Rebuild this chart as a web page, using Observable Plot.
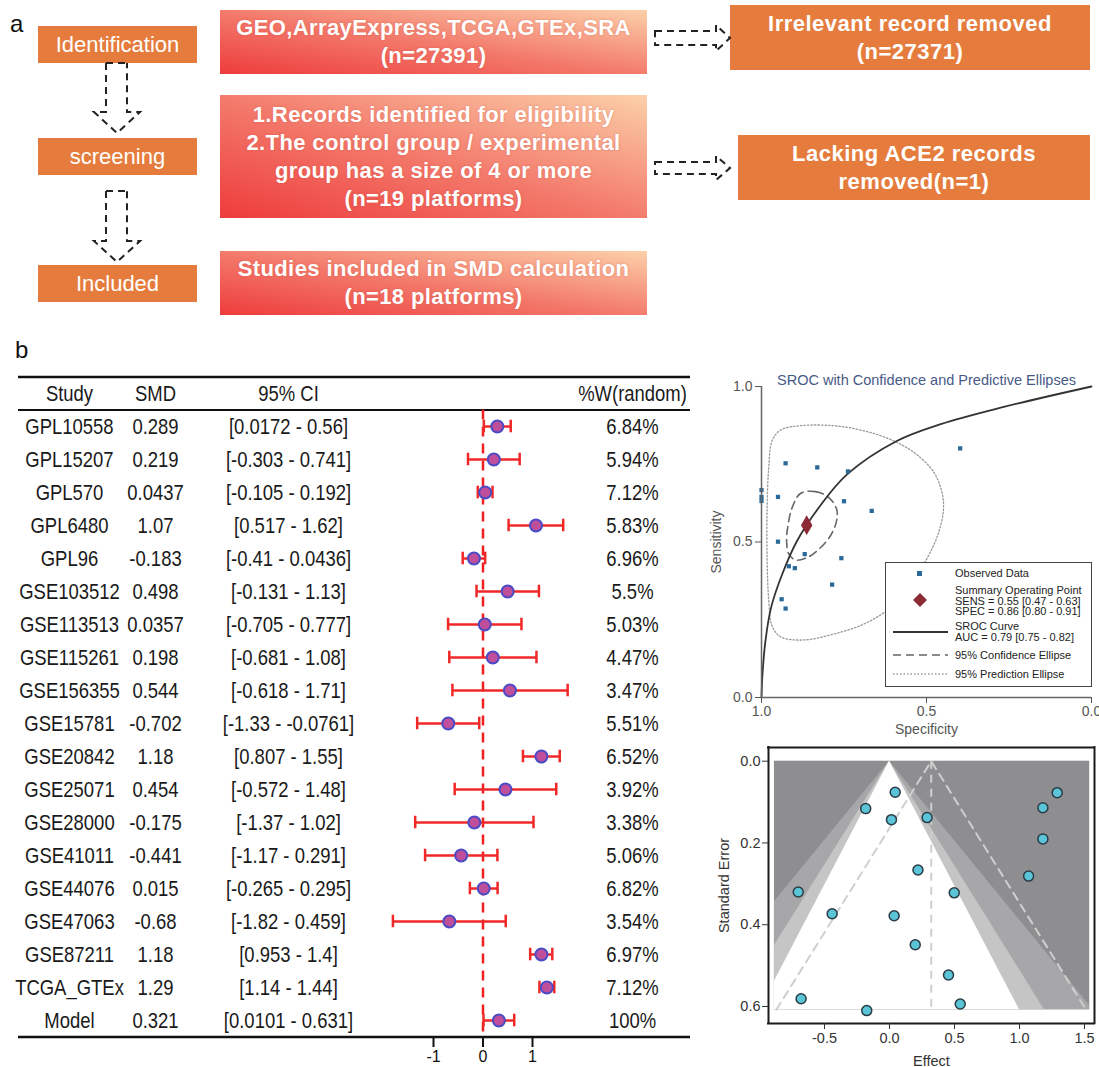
<!DOCTYPE html>
<html><head><meta charset="utf-8">
<script src="https://cdn.jsdelivr.net/npm/d3@7"></script>
<script src="https://cdn.jsdelivr.net/npm/@observablehq/plot@0.6"></script>
<style>
body{margin:0;background:#fff;}
#root{position:relative;width:1099px;height:1067px;overflow:hidden;font-family:"Liberation Sans",Arial,sans-serif;}
.box{position:absolute;display:flex;flex-direction:column;justify-content:center;align-items:center;color:#fff;text-align:center;box-sizing:border-box;line-height:28px;}
.orange{background:#E57C3D;}
.left{font-size:22px;font-weight:normal;}
.grad{background:linear-gradient(to top right,#ee3c3c 0%,#f3796b 48%,#fcd0aa 100%);font-weight:bold;font-size:22px;letter-spacing:0.4px;text-shadow:0 0 2px rgba(200,80,60,0.5);}
.rbox{font-weight:bold;font-size:22px;letter-spacing:0.5px;}
.plot{position:absolute;}
.lab{position:absolute;font-size:24px;color:#111;}
#legend{position:absolute;left:885px;top:562px;width:207px;height:125px;box-sizing:border-box;border:1px solid #444;background:#fff;font-family:"Liberation Sans",Arial,sans-serif;font-size:11px;color:#222;}
#legend .t{position:absolute;left:69px;line-height:10.5px;white-space:nowrap;}
</style>
</head><body>
<div id="root">
  <div class="lab" style="left:10px;top:10px;">a</div>
  <div class="box orange left" style="left:38px;top:26px;width:159px;height:37px;">Identification</div>
  <div class="box orange left" style="left:38px;top:138px;width:159px;height:37px;">screening</div>
  <div class="box orange left" style="left:38px;top:265px;width:159px;height:37px;">Included</div>
  <div class="box grad" style="left:220px;top:10px;width:427px;height:64px;"><div>GEO,ArrayExpress,TCGA,GTEx,SRA</div><div>(n=27391)</div></div>
  <div class="box grad" style="left:220px;top:95px;width:427px;height:123px;"><div>1.Records identified for eligibility</div><div>2.The control group / experimental</div><div>group has a size of 4 or more</div><div>(n=19 platforms)</div></div>
  <div class="box grad" style="left:220px;top:251px;width:427px;height:64px;"><div>Studies included in SMD calculation</div><div>(n=18 platforms)</div></div>
  <div class="box orange rbox" style="left:730px;top:5px;width:360px;height:65px;"><div>Irrelevant record removed</div><div>(n=27371)</div></div>
  <div class="box orange rbox" style="left:738px;top:135px;width:352px;height:65px;"><div>Lacking ACE2 records</div><div>removed(n=1)</div></div>
  <svg style="position:absolute;left:0;top:0;" width="1099" height="330">
    <g fill="none" stroke="#222" stroke-width="2" stroke-dasharray="7,5">
      <path d="M106,63 H127 M106,63 V112 H94 L117,133 L140,112 H127 V63"/>
      <path d="M106,191 H127 M106,191 V241 H94 L117,262 L140,241 H127 V191"/>
      <path d="M655,31 H716 V25 L730,38 L716,51 V45 H655 Z"/>
      <path d="M655,162 H716 V156 L730,168 L716,180 V174 H655 Z"/>
    </g>
  </svg>
  <div class="lab" style="left:15px;top:336px;">b</div>
  <div id="forest" class="plot" style="left:0;top:360px;"></div>
  <div id="sroc" class="plot" style="left:700px;top:340px;"></div>
  <div id="funnel" class="plot" style="left:700px;top:735px;"></div>
  <div id="legend">
    <svg width="207" height="125" style="position:absolute;left:0;top:0;">
      <rect x="31" y="8" width="5" height="5" fill="#2a6a9a"/>
      <path d="M34,30 L41,37 L34,44 L27,37 Z" fill="#8c2a36"/>
      <line x1="7" x2="62" y1="69" y2="69" stroke="#333" stroke-width="1.8"/>
      <line x1="7" x2="62" y1="92" y2="92" stroke="#666" stroke-width="1.6" stroke-dasharray="8,5"/>
      <line x1="7" x2="62" y1="111" y2="111" stroke="#9a9a9a" stroke-width="1.3" stroke-dasharray="1.5,2"/>
    </svg>
    <div class="t" style="top:5px;">Observed Data</div>
    <div class="t" style="top:22px;">Summary Operating Point<br>SENS = 0.55 [0.47 - 0.63]<br>SPEC = 0.86 [0.80 - 0.91]</div>
    <div class="t" style="top:58px;">SROC Curve<br>AUC = 0.79 [0.75 - 0.82]</div>
    <div class="t" style="top:87px;">95% Confidence Ellipse</div>
    <div class="t" style="top:106px;">95% Prediction Ellipse</div>
  </div>
</div>
<script>
// ---------- Forest plot data ----------
const studies = ["GPL10558","GPL15207","GPL570","GPL6480","GPL96","GSE103512","GSE113513","GSE115261","GSE156355","GSE15781","GSE20842","GSE25071","GSE28000","GSE41011","GSE44076","GSE47063","GSE87211","TCGA_GTEx","Model"];
const smd = [0.289,0.219,0.0437,1.07,-0.183,0.498,0.0357,0.198,0.544,-0.702,1.18,0.454,-0.175,-0.441,0.015,-0.68,1.18,1.29,0.321];
const ciLow = [0.0172,-0.303,-0.105,0.517,-0.41,-0.131,-0.705,-0.681,-0.618,-1.33,0.807,-0.572,-1.37,-1.17,-0.265,-1.82,0.953,1.14,0.0101];
const ciHigh = [0.56,0.741,0.192,1.62,0.0436,1.13,0.777,1.08,1.71,-0.0761,1.55,1.48,1.02,0.291,0.295,0.459,1.4,1.44,0.631];
const weights = ["6.84%","5.94%","7.12%","5.83%","6.96%","5.5%","5.03%","4.47%","3.47%","5.51%","6.52%","3.92%","3.38%","5.06%","6.82%","3.54%","6.97%","7.12%","100%"];
const forestTicks = [-1, 0, 1];

// ---------- Funnel plot data (standard errors) ----------
const funnelSE = [0.138,0.266,0.076,0.281,0.116,0.322,0.378,0.449,0.594,0.320,0.190,0.523,0.610,0.373,0.143,0.581,0.114,0.077];
const zLevels = [2.576, 1.96, 1.645];
const zFills = ["#a7a7a9", "#c5c5c6", "#ffffff"];
const funnelXlim = [-0.885, 1.54];
const funnelSEmax = 0.608;
const funnelXTicks = [-0.5, 0, 0.5, 1, 1.5];
const funnelYTicks = [0, 0.2, 0.4, 0.6];

// ---------- SROC data ----------
const obsSpec = [1.0,1.0,1.0,0.927,0.831,0.738,0.950,0.750,0.666,0.398,0.950,0.869,0.758,0.917,0.899,0.786,0.939,0.927];
const obsSens = [0.667,0.645,0.632,0.753,0.740,0.727,0.645,0.631,0.600,0.801,0.501,0.461,0.448,0.422,0.416,0.363,0.316,0.286];
const summarySpec = 0.863, summarySens = 0.554;
const srocSpec = [1.0,0.997,0.988,0.971,0.937,0.892,0.826,0.74,0.59,0.457,0.275,0.0];
const srocSens = [0.0,0.075,0.182,0.289,0.397,0.504,0.611,0.718,0.825,0.879,0.932,1.0];
const confSpec = [0.882,0.836,0.796,0.7725,0.7725,0.791,0.826,0.8615,0.897,0.917,0.924,0.920,0.907];
const confSens = [0.656,0.662,0.643,0.606,0.568,0.520,0.477,0.450,0.442,0.461,0.504,0.552,0.611];
const predSpec = [0.942,0.882,0.781,0.700,0.619,0.538,0.477,0.452,0.449,0.465,0.497,0.548,0.609,0.690,0.781,0.872,0.942,0.968,0.978,0.983,0.983,0.978,0.968];
const predSens = [0.860,0.874,0.874,0.860,0.834,0.788,0.723,0.654,0.600,0.525,0.450,0.364,0.289,0.236,0.204,0.185,0.195,0.230,0.311,0.450,0.611,0.740,0.825];
const srocTicks = [1, 0.5, 0];

// ---------- Forest ----------
const rows = studies.map((s, i) => ({i, study: s, smd: smd[i], lo: ciLow[i], hi: ciHigh[i], w: weights[i]}));
const n = rows.length;
const cols = [
  {header: "Study", dx: 51, text: d => d.study},
  {header: "SMD", dx: 137, text: d => String(d.smd)},
  {header: "95% CI", dx: 270, text: d => `[${d.lo} - ${d.hi}]`},
  {header: "%W(random)", dx: 614, text: d => d.w}
];
const forest = Plot.plot({
  width: 700, height: 707, marginLeft: 18, marginRight: 10, marginTop: 0, marginBottom: 31,
  style: {fontFamily: '"Liberation Sans",Arial,sans-serif', background: "transparent", overflow: "visible", color: "#111"},
  x: {type: "linear", domain: [-1, 1], range: [433, 532]},
  y: {type: "linear", domain: [0, n - 1], range: [66, 660], axis: null},
  marks: [
    Plot.ruleY([-1.5], {stroke: "#111", strokeWidth: 2.5}),
    Plot.ruleY([-0.5], {stroke: "#111", strokeWidth: 2}),
    Plot.ruleY([n - 0.5], {stroke: "#111", strokeWidth: 2.5}),
    Plot.ruleX([0], {y1: -0.5, y2: n - 0.5, stroke: "#f02020", strokeWidth: 2.5, strokeDasharray: "10,7"}),
    Plot.ruleY(rows, {y: "i", x1: "lo", x2: "hi", stroke: "#f02828", strokeWidth: 2.5}),
    Plot.ruleX(rows, {x: "lo", y1: d => d.i - 0.19, y2: d => d.i + 0.19, stroke: "#f02828", strokeWidth: 2.5}),
    Plot.ruleX(rows, {x: "hi", y1: d => d.i - 0.19, y2: d => d.i + 0.19, stroke: "#f02828", strokeWidth: 2.5}),
    Plot.dot(rows, {x: "smd", y: "i", r: 6, fill: "#bf4f9a", stroke: "#4b4bc6", strokeWidth: 2}),
    ...cols.flatMap(c => [
      Plot.text([c.header], {y: () => -1, text: d => d, frameAnchor: "left", textAnchor: "middle", dx: c.dx, fontSize: 22, fill: "#1a1a1a"}),
      Plot.text(rows, {y: "i", text: c.text, frameAnchor: "left", textAnchor: "middle", dx: c.dx, fontSize: 22, fill: "#1a1a1a"})
    ]),
    Plot.axisX({ticks: forestTicks, tickFormat: d => String(d), tickSize: 11, tickPadding: 3, fontSize: 16, label: null, strokeWidth: 2})
  ]
});
// condense the table text horizontally (the reference uses a narrow face)
forest.querySelectorAll('g[aria-label="text"] text').forEach(t => {
  const x = +(t.getAttribute("x") || 0);
  const tr = t.getAttribute("transform") || "";
  t.setAttribute("transform", `${tr} translate(${x},0) scale(0.84,1) translate(${-x},0)`);
});
document.getElementById("forest").appendChild(forest);

// ---------- SROC ----------
const obs = obsSpec.map((s, i) => ({spec: s, sens: obsSens[i]}));
const curve = srocSpec.map((s, i) => ({spec: s, sens: srocSens[i]}));
const conf = confSpec.map((s, i) => ({spec: s, sens: confSens[i]}));
const pred = predSpec.map((s, i) => ({spec: s, sens: predSens[i]}));
const sroc = Plot.plot({
  width: 399, height: 400, marginLeft: 61, marginRight: 8, marginTop: 46, marginBottom: 43,
  style: {fontFamily: '"Liberation Sans",Arial,sans-serif', fontSize: "14px", background: "transparent", overflow: "visible"},
  x: {domain: [1, 0]},
  y: {domain: [0, 1]},
  marks: [
    Plot.line(pred, {x: "spec", y: "sens", curve: "catmull-rom-closed", stroke: "#9a9a9a", strokeWidth: 1.3, strokeDasharray: "1.5,2"}),
    Plot.line(conf, {x: "spec", y: "sens", curve: "catmull-rom-closed", stroke: "#666", strokeWidth: 1.6, strokeDasharray: "8,5"}),
    Plot.line(curve, {x: "spec", y: "sens", curve: "catmull-rom", stroke: "#333", strokeWidth: 1.8}),
    Plot.dot(obs, {x: "spec", y: "sens", symbol: "square", r: 2.4, fill: "#2a6a9a"}),
    Plot.dot([{spec: summarySpec, sens: summarySens}], {x: "spec", y: "sens", symbol: "diamond", r: 6, fill: "#8c2a36"}),
    Plot.ruleX([1], {stroke: "#666", strokeWidth: 1.5}),
    Plot.ruleY([0], {stroke: "#666", strokeWidth: 1.5}),
    Plot.axisX({ticks: srocTicks, tickFormat: d => d.toFixed(1), tickSize: 6, tickPadding: 3, color: "#555", fontSize: 14, label: "Specificity", labelAnchor: "center", labelArrow: "none", labelOffset: 36}),
    Plot.axisY({ticks: srocTicks, tickFormat: d => d.toFixed(1), tickSize: 6, tickPadding: 3, color: "#555", fontSize: 14, label: "Sensitivity", labelAnchor: "center", labelArrow: "none", labelOffset: 50}),
    Plot.text(["SROC with Confidence and Predictive Ellipses"], {frameAnchor: "top", dy: -12, fill: "#475a87", fontSize: 14.5})
  ]
});
document.getElementById("sroc").appendChild(sroc);

// ---------- Funnel ----------
const fpts = funnelSE.map((se, i) => ({effect: smd[i], se}));
const pooled = smd[smd.length - 1];
function band(z) {
  const [a, b] = funnelXlim;
  const ses = [0, -a / z, b / z, funnelSEmax].filter(s => s <= funnelSEmax).sort((p, q) => p - q);
  return ses.map(se => ({se, x1: Math.max(-z * se, a), x2: Math.min(z * se, b)}));
}
const FW = 399, FH = 332, FML = 68, FMR = 5, FMT = 12, FMB = 44;
const fxScale = d3.scaleLinear([-0.5, 1.5], [124, 384]);
const fyScale = d3.scaleLinear([0, 0.6], [25.7, 271]);
const frameX = [fxScale.invert(FML), fxScale.invert(FW - FMR)];
const frameY = [fyScale.invert(FMT), fyScale.invert(FH - FMB)];
const funnel = Plot.plot({
  width: FW, height: FH, marginLeft: FML, marginRight: FMR, marginTop: FMT, marginBottom: FMB,
  style: {fontFamily: '"Liberation Sans",Arial,sans-serif', fontSize: "14.5px", background: "transparent", overflow: "visible"},
  x: {domain: fxScale.domain(), range: fxScale.range()},
  y: {domain: fyScale.domain(), range: fyScale.range()},
  marks: [
    Plot.rect([0], {x1: funnelXlim[0], x2: funnelXlim[1], y1: 0, y2: funnelSEmax, fill: "#8e8e91"}),
    ...zLevels.map((z, k) => Plot.areaX(band(z), {y: "se", x1: "x1", x2: "x2", fill: zFills[k]})),
    Plot.ruleX([pooled], {y1: 0, y2: funnelSEmax, stroke: "#cfcfcf", strokeWidth: 2, strokeDasharray: "8,6"}),
    Plot.line([{x: pooled - 1.96 * funnelSEmax, y: funnelSEmax}, {x: pooled, y: 0}, {x: pooled + 1.96 * funnelSEmax, y: funnelSEmax}],
      {x: "x", y: "y", stroke: "#cfcfcf", strokeWidth: 2, strokeDasharray: "8,6"}),
    Plot.dot(fpts, {x: "effect", y: "se", r: 5, fill: "#5bc4d6", stroke: "#2b3b46", strokeWidth: 1.5}),
    Plot.ruleX(frameX, {stroke: "#1a1a1a", strokeWidth: 2, strokeLinecap: "square"}),
    Plot.ruleY(frameY, {stroke: "#1a1a1a", strokeWidth: 2, strokeLinecap: "square"}),
    Plot.axisX({ticks: funnelXTicks, tickFormat: d => d.toFixed(1), tickSize: 6, tickPadding: 3, color: "#333", label: "Effect", labelAnchor: "center", labelArrow: "none", labelOffset: 42}),
    Plot.axisY({ticks: funnelYTicks, tickFormat: d => d.toFixed(1), tickSize: 6, tickPadding: 2, color: "#333", label: "Standard Error", labelAnchor: "center", labelArrow: "none", labelOffset: 50})
  ]
});
document.getElementById("funnel").appendChild(funnel);
</script>
</body></html>
